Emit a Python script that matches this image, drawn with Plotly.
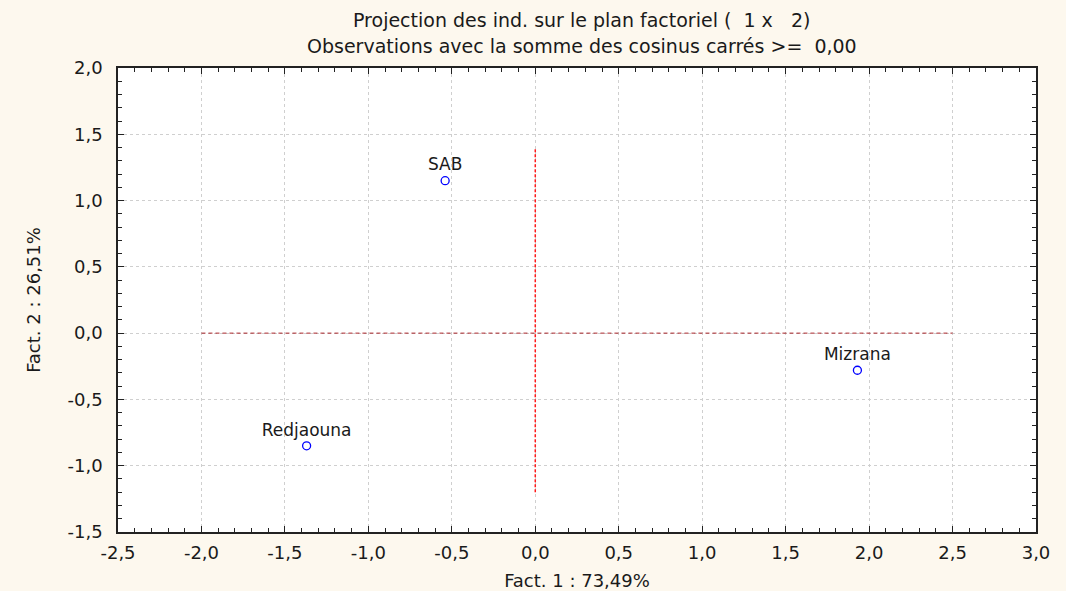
import plotly.graph_objects as go

# Individuals projected on the factorial plane (Fact. 1 x Fact. 2)
names = ["SAB", "Mizrana", "Redjaouna"]
fact1 = [-0.54, 1.93, -1.37]
fact2 = [1.15, -0.28, -0.85]

# Tick positions and their comma-decimal labels
x_ticks = [-2.5, -2.0, -1.5, -1.0, -0.5, 0.0, 0.5, 1.0, 1.5, 2.0, 2.5, 3.0]
x_labels = ["-2,5", "-2,0", "-1,5", "-1,0", "-0,5", "0,0", "0,5", "1,0", "1,5", "2,0", "2,5", "3,0"]
y_ticks = [-1.5, -1.0, -0.5, 0.0, 0.5, 1.0, 1.5, 2.0]
y_labels = ["-1,5", "-1,0", "-0,5", "0,0", "0,5", "1,0", "1,5", "2,0"]

# Origin reference lines (extent on each axis)
h_line_x = [-2.0, 2.5]
v_line_y = [-1.2, 1.4]

FONT = "DejaVu Sans, Arial, sans-serif"
BG = "#fdf8ee"
INK = "#1a1a1a"

fig = go.Figure()

fig.add_trace(go.Scatter(
    x=h_line_x, y=[0, 0], mode="lines",
    line=dict(color="#a82428", width=1, dash="4px,3px"),
    hoverinfo="skip", showlegend=False,
))
fig.add_trace(go.Scatter(
    x=[0, 0], y=v_line_y, mode="lines",
    line=dict(color="#ff1a1a", width=1.5, dash="3px,2px"),
    hoverinfo="skip", showlegend=False,
))

fig.add_trace(go.Scatter(
    x=fact1, y=fact2, mode="markers+text",
    text=names, textposition="top center",
    textfont=dict(family=FONT, size=17, color=INK),
    marker=dict(symbol="circle-open", size=8, color="#0000ff", line=dict(width=1.3)),
    showlegend=False,
))

axis_common = dict(
    showline=True, linecolor="#222222", linewidth=1.5, mirror="allticks",
    ticks="inside", ticklen=6, tickwidth=1, tickcolor="#222222",
    showgrid=True, gridcolor="#cfcfcf", griddash="dot", gridwidth=1,
    zeroline=False, automargin=False,
    tickfont=dict(family=FONT, size=18, color=INK),
    minor=dict(dtick=0.1, ticks="inside", ticklen=4, tickcolor="#222222", showgrid=False),
)

fig.update_xaxes(
    range=[-2.5, 3.0], tickvals=x_ticks, ticktext=x_labels,
    ticklabelstandoff=4,
    title=dict(text="Fact. 1 : 73,49%", font=dict(family=FONT, size=18, color=INK), standoff=12),
    **axis_common,
)
fig.update_yaxes(
    range=[-1.5, 2.0], tickvals=y_ticks, ticktext=y_labels,
    ticklabelstandoff=10,
    title=dict(text="Fact. 2 : 26,51%", font=dict(family=FONT, size=18, color=INK), standoff=22),
    **axis_common,
)

# Two-line chart heading
fig.add_annotation(
    text="Projection des ind. sur le plan factoriel (  1 x   2)",
    xref="paper", yref="paper", x=0.505, y=1.103, xanchor="center", yanchor="middle",
    showarrow=False, font=dict(family=FONT, size=19, color=INK),
)
fig.add_annotation(
    text="Observations avec la somme des cosinus carrés >=  0,00",
    xref="paper", yref="paper", x=0.505, y=1.048, xanchor="center", yanchor="middle",
    showarrow=False, font=dict(family=FONT, size=19, color=INK),
)

fig.update_layout(
    width=1066, height=591,
    margin=dict(l=118, r=30, t=68, b=59),
    paper_bgcolor=BG, plot_bgcolor="white",
)

fig.write_html("out.html")
